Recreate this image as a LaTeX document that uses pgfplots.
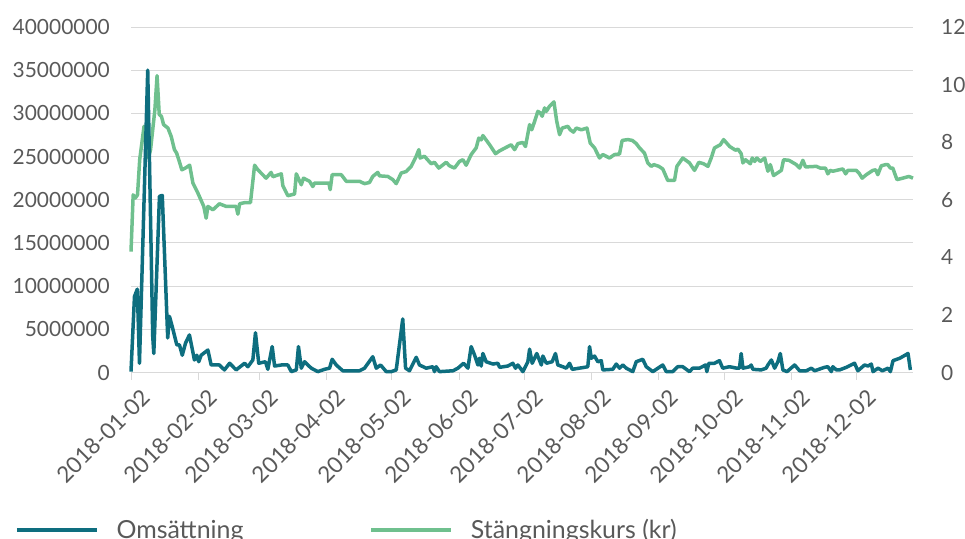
\documentclass[border=0pt]{standalone}
\usepackage{pgfplots}
\pgfplotsset{compat=1.18}
\usepackage{fontspec}
\setmainfont{Lato}
\definecolor{oms}{HTML}{0E6E7F}
\definecolor{kurs}{HTML}{6FC08E}
\definecolor{txt}{HTML}{595959}
\definecolor{grd}{HTML}{D9D9D9}

\pgfplotstableread{
d v
0 100000
1.6 8800000
2.9 9650000
3.9 1070000
7.7 35000000
8.5 24600000
10 4200000
10.5 2200000
13.1 20400000
14.4 20500000
16.9 4000000
17.7 6500000
19 5300000
21.1 3200000
22.3 3200000
23.6 2000000
25.1 3400000
26.9 4350000
29.2 1450000
30.3 2000000
31.2 1250000
32.3 2000000
35.4 2600000
36.9 870000
40.7 870000
43 300000
45.4 1070000
48.4 300000
52.3 1070000
53.8 670000
56.1 1450000
57.3 4600000
58.8 1070000
61.9 1250000
63 370000
65 3000000
66.1 750000
69.2 870000
72.2 870000
73.8 100000
76.1 300000
77.1 3000000
78.4 500000
79.9 1250000
81.4 870000
83 500000
86 100000
89.1 370000
91.4 500000
92.6 1530000
94.5 870000
97.5 200000
105.2 200000
107.5 500000
111.3 1830000
112.9 500000
114.9 870000
117.5 100000
119.8 100000
122.1 300000
125.1 6200000
126.4 500000
128.2 200000
131.3 1760000
132.8 870000
135.9 500000
139 670000
139.7 100000
140.5 670000
142 100000
148.2 200000
150.5 500000
153.1 1070000
155.1 500000
156.6 3000000
158.2 2000000
159.7 870000
160.4 1650000
161.2 750000
162 2200000
163.5 1250000
166.6 980000
168.9 1070000
169.7 600000
173.5 750000
175.8 1070000
177 500000
178.1 870000
180.4 100000
182.7 1250000
183.5 2700000
184.7 1070000
186.8 2200000
188.9 870000
189.6 1910000
191.2 1070000
193.9 1250000
195.4 2200000
196.5 870000
198.8 670000
200.4 500000
201.9 1070000
203.1 370000
208.8 600000
210.3 670000
211.1 3000000
211.9 1650000
213.4 1900000
214.9 1250000
216.5 1370000
217.2 300000
221.8 370000
223.4 980000
224.9 500000
226.4 870000
228 500000
231 100000
232.6 1250000
235.6 1530000
237.2 670000
240.2 100000
244.8 870000
246.4 100000
249.4 100000
251.7 670000
254 670000
257.1 100000
258.6 500000
261.7 500000
264.5 870000
265.1 100000
266 1070000
268.6 1070000
270.9 1370000
272.4 500000
275.5 670000
278.9 500000
280.1 500000
280.9 2200000
281.7 500000
284.8 670000
285.5 870000
286.3 370000
290.1 300000
292.4 500000
293.2 870000
294.8 1450000
296.3 500000
297.8 1250000
298.9 2200000
300.1 300000
302 100000
305.5 870000
307.8 200000
310.9 200000
313.2 500000
314.7 200000
319.3 600000
320.8 670000
322.4 100000
323.1 670000
324.7 300000
326.2 300000
329.3 600000
333.1 1070000
334.6 200000
337.7 870000
339.3 750000
340.8 980000
341.6 100000
343.9 500000
345.9 200000
348.5 500000
349.6 100000
350.8 1370000
353.9 1650000
357.7 2200000
358.8 300000
}\omsdata

\pgfplotstableread{
d v
0 4.2
1 6.17
2 6.06
3 6.17
4 7.39
6 8.55
7 8.43
8 7.45
9 7.74
11 9.13
12 10.31
13 8.96
14 8.9
15 8.61
17 8.49
18.5 8.2
20 7.74
21 7.62
22 7.39
23.4 7.04
25 7.1
27 7.2
28.5 6.58
30.8 6.23
33.5 5.77
34.6 5.36
35.4 5.77
37.7 5.65
40.7 5.86
43.8 5.77
48.4 5.77
49.2 5.5
50 5.86
52.3 5.9
55 5.9
56.9 7.2
58.4 7.04
62.2 6.75
64.5 6.95
65.3 6.8
69.2 6.9
69.9 6.49
72.2 6.14
75.3 6.2
76.1 6.9
78.4 6.52
79.4 6.75
82.2 6.64
83.7 6.46
84.5 6.58
91.1 6.58
91.7 6.35
92.6 6.87
96.8 6.87
99.1 6.64
105.2 6.64
107.5 6.56
109.8 6.6
111.3 6.81
113.6 6.95
114.4 6.83
118.2 6.81
120.5 6.7
122.1 6.56
124.4 6.93
126.7 6.98
129 7.16
131.3 7.51
132.5 7.74
133.1 7.45
135.1 7.51
138.2 7.25
139.7 7.3
141.7 7.1
145.1 7.3
146.6 7.18
148.9 7.1
151.2 7.33
152.8 7.39
154.3 7.2
156.6 7.57
158.9 7.8
160.1 8.14
161.2 8.08
162 8.23
165.1 7.91
167.8 7.6
169.7 7.7
175 7.91
176.6 7.74
178.1 7.95
180.4 7.99
181.6 7.85
183.5 8.61
184.5 8.43
185.8 8.72
187.3 9.07
188.4 9.02
189.3 8.9
190.4 9.19
191.2 9.07
192.7 9.25
194.7 9.4
196 8.72
197.3 8.26
198.5 8.49
201.1 8.55
202.2 8.43
203.7 8.35
205 8.49
207.3 8.43
209.9 8.49
211.4 7.97
213.4 7.8
215.7 7.45
217.2 7.57
220.3 7.45
222.6 7.57
224.9 7.59
226.1 8.06
228.7 8.09
230.8 8.06
232.6 7.95
234.1 7.8
236.4 7.62
237.9 7.28
239.5 7.16
240.7 7.22
243 7.16
244.8 7.07
247.1 6.67
250.2 6.67
251.3 7.16
254 7.45
257.1 7.28
259.4 7.02
261.4 7.3
263.6 7.25
265.6 7.16
267.1 7.45
268.6 7.8
271.3 7.91
272.8 8.09
275.6 7.85
278.3 7.72
279.4 7.76
280.9 7.6
281.7 7.28
282.9 7.39
285.1 7.25
286 7.45
287.1 7.33
288.1 7.45
289.7 7.33
291.7 7.45
293.2 6.99
294.3 7.22
295.8 6.84
299.4 7.02
300.4 7.39
302.9 7.37
306.3 7.22
307.8 7.1
309.3 7.37
310.5 7.14
315.5 7.16
317.3 7.1
319.7 7.1
320.8 6.9
321.9 7.02
323.1 6.99
325.9 7.04
327.7 7.07
329 6.9
330 7.02
333.9 7.02
335.1 6.93
336.6 6.75
338.5 6.87
341.5 7.02
342.8 7.04
343.8 6.87
345.4 7.18
347.4 7.22
348.4 7.22
349.6 7.1
350.7 7.1
352.6 6.7
355.3 6.75
358.1 6.81
360 6.75
}\kursdata

\begin{document}
\begin{tikzpicture}
\useasboundingbox (0,0) rectangle (965bp,-539bp);
\pgfplotsset{
  base/.style={scale only axis, width=782bp, height=345.5bp,
    at={(131bp,-372.5bp)}, anchor=south west, xmin=0, xmax=360, clip=false,
    /pgf/number format/assume math mode=true,
    tick label style={font=\fontsize{21}{25}\selectfont, text=txt}},
}
% axis 1: grid, x axis, left labels
\begin{axis}[base, ymin=0, ymax=40000000,
  ytick={0,5000000,10000000,15000000,20000000,25000000,30000000,35000000,40000000},
  ymajorgrids, grid style={grd, line width=1bp},
  axis x line*=bottom, axis y line*=left,
  x axis line style={grd, line width=1bp, -},
  y axis line style={draw=none},
  xtick={0,31,59,90,120,151,181,212,243,273,304,334},
  xticklabels={2018-01-02,2018-02-02,2018-03-02,2018-04-02,2018-05-02,2018-06-02,2018-07-02,2018-08-02,2018-09-02,2018-10-02,2018-11-02,2018-12-02},
  xtick style={grd, line width=1bp}, ytick style={draw=none},
  tick align=outside, major tick length=7bp,
  xticklabel style={rotate=45, anchor=north east, inner sep=0pt, xshift=1bp, yshift=-12bp,
    font=\fontsize{22.5}{26}\selectfont},
  scaled y ticks=false,
  yticklabel style={/pgf/number format/fixed, /pgf/number format/precision=0,
    /pgf/number format/1000 sep={}, anchor=east, inner sep=0pt, xshift=-14bp},
]
\end{axis}
% axis 2: closing price, right axis
\begin{axis}[base, ymin=0, ymax=12, ytick={0,2,4,6,8,10,12},
  axis y line*=right, axis x line=none,
  y axis line style={draw=none}, ytick style={draw=none}, major tick length=0pt,
  yticklabel style={anchor=west, inner sep=0pt, xshift=28bp},
]
\addplot[kurs, line width=3.5bp, line join=round] table[x=d, y=v] {\kursdata};
\end{axis}
% axis 3: turnover
\begin{axis}[base, ymin=0, ymax=40000000, hide axis,
  legend columns=2, legend cell align=left,
  legend image code/.code={\draw[#1] (0bp,0bp) -- (80bp,0bp); \path (0bp,0bp) (98bp,0bp);},
  legend style={at={(-0.1483,-0.4559)}, anchor=west, draw=none, fill=none,
    inner sep=0pt, outer sep=0pt, font=\fontsize{25}{30}\selectfont, text=txt,
    nodes={inner sep=0pt},
    /tikz/every even column/.append style={column sep=126bp}},
]
\addplot[oms, line width=3.5bp, line join=round] table[x=d, y=v] {\omsdata};
\addlegendentry{Omsättning}
\addlegendimage{kurs, line width=3.5bp}
\addlegendentry{Stängningskurs (kr)}
\end{axis}
\end{tikzpicture}
\end{document}
